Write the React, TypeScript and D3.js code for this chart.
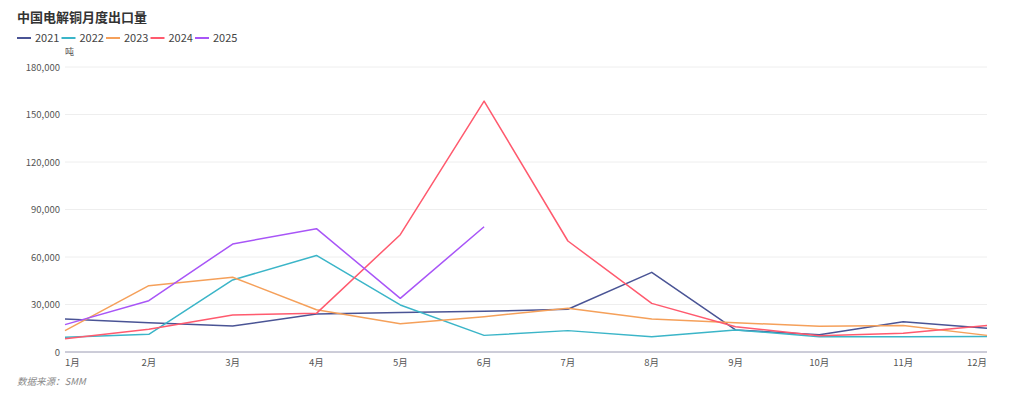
import React from "react";
import * as d3 from "d3";

const months = ["1月", "2月", "3月", "4月", "5月", "6月", "7月", "8月", "9月", "10月", "11月", "12月"];
const yTicks = [0, 30000, 60000, 90000, 120000, 150000, 180000];

const s2021 = [20800, 18500, 16400, 24000, 25000, 25700, 27000, 50300, 13900, 10900, 19100, 15000];
const s2022 = [9300, 11200, 45500, 61000, 29700, 10500, 13500, 9700, 13900, 9700, 9700, 9800];
const s2023 = [13500, 41900, 47200, 26700, 17900, 22300, 27600, 20800, 18500, 16200, 16800, 10500];
const s2024 = [8400, 14300, 23400, 24400, 74100, 158500, 70100, 30700, 16000, 10300, 11800, 16800];
const s2025 = [17300, 32400, 68200, 77900, 33900, 79100];

const seriesNames = ["2021", "2022", "2023", "2024", "2025"];
const seriesColors = ["#4a5495", "#3bb5c8", "#f5a05a", "#ff5a6e", "#a855f7"];
const seriesData = [s2021, s2022, s2023, s2024, s2025];

const W = 1024;
const H = 399;
const font = "'Noto Sans CJK SC', 'Noto Sans', sans-serif";

const App = () => {
  const x = d3.scalePoint<string>().domain(months).range([65, 987]);
  const y = d3.scaleLinear().domain([0, 180000]).range([352, 67]);

  const line = d3
    .line<number>()
    .x((_, i) => x(months[i]) as number)
    .y((d) => y(d));

  const fmt = d3.format(",");

  return (
    <div style={{ margin: -8 }}>
      <svg width={W} height={H} style={{ display: "block", fontFamily: font }}>
        <rect width={W} height={H} fill="#fff" />
        <text x={17} y={22} fontSize={13} fontWeight="bold" fill="#333">
          中国电解铜月度出口量
        </text>

        {seriesNames.map((name, i) => (
          <g key={name} transform={`translate(${17 + i * 44.5},38)`}>
            <line x1={0} x2={14} y1={0} y2={0} stroke={seriesColors[i]} strokeWidth={2} />
            <text x={18} y={4} fontSize={11} fill="#444">
              {name}
            </text>
          </g>
        ))}

        <text x={65} y={55} fontSize={9} fill="#555">
          吨
        </text>

        {yTicks.map((t) => (
          <g key={t}>
            {t > 0 && <line x1={65} x2={987} y1={y(t)} y2={y(t)} stroke="#eeeeee" strokeWidth={1} />}
            <text x={60} y={y(t) + 3.5} fontSize={9.5} fill="#555" textAnchor="end">
              {fmt(t)}
            </text>
          </g>
        ))}

        <line x1={65} x2={987} y1={y(0)} y2={y(0)} stroke="#9a9ab2" strokeWidth={1} />

        {months.map((m, i) => (
          <text
            key={m}
            x={x(m)}
            y={366}
            fontSize={9.5}
            fill="#555"
            textAnchor={i === 0 ? "start" : i === months.length - 1 ? "end" : "middle"}
          >
            {m}
          </text>
        ))}

        {seriesData.map((d, i) => (
          <path
            key={seriesNames[i]}
            d={line(d) || ""}
            fill="none"
            stroke={seriesColors[i]}
            strokeWidth={1.5}
            strokeLinejoin="round"
          />
        ))}

        <text x={17} y={385} fontSize={9.5} fill="#888" fontStyle="italic">
          数据来源：SMM
        </text>
      </svg>
    </div>
  );
};

export default App;
